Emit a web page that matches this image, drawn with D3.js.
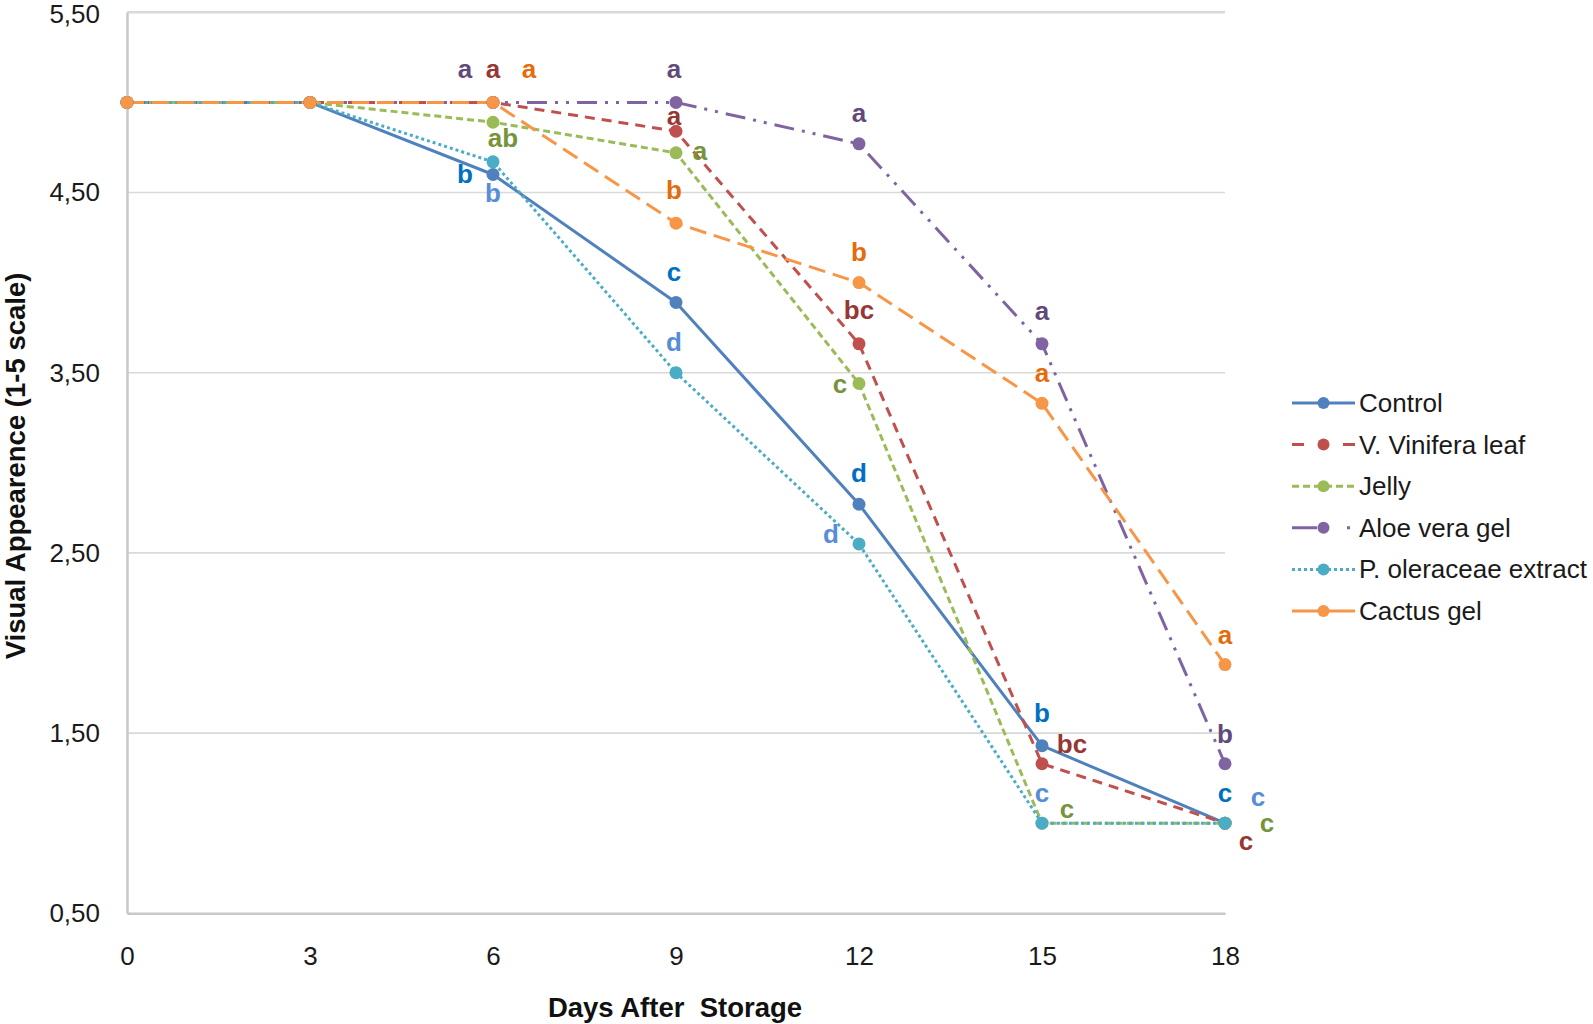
<!DOCTYPE html>
<html>
<head>
<meta charset="utf-8">
<script src="https://cdn.jsdelivr.net/npm/d3@7/dist/d3.min.js"></script>
<style>
  html, body { margin: 0; padding: 0; background: #fff; }
  svg { display: block; font-family: Arial, "Liberation Sans", sans-serif; }
</style>
</head>
<body>
<svg id="chart" width="1593" height="1024"></svg>
<script>
// ---------- DATA ----------
const days = [0, 3, 6, 9, 12, 15, 18];
const seriesNames = ["Control", "V. Vinifera leaf", "Jelly", "Aloe vera gel", "P. oleraceae extract", "Cactus gel"];
const controlValues   = [5, 5, 4.60, 3.89, 2.77, 1.43, 1.00];
const viniferaValues  = [5, 5, 5.00, 4.84, 3.66, 1.33, 1.00];
const jellyValues     = [5, 5, 4.89, 4.72, 3.44, 1.00, 1.00];
const aloeValues      = [5, 5, 5.00, 5.00, 4.77, 3.66, 1.33];
const oleraceaeValues = [5, 5, 4.67, 3.50, 2.55, 1.00, 1.00];
const cactusValues    = [5, 5, 5.00, 4.33, 4.00, 3.33, 1.88];

const controlLetters   = [null, null, "b",  "c", "d",  "b",  "c"];
const viniferaLetters  = [null, null, "a",  "a", "bc", "bc", "c"];
const jellyLetters     = [null, null, "ab", "a", "c",  "c",  "c"];
const aloeLetters      = [null, null, "a",  "a", "a",  "a",  "b"];
const oleraceaeLetters = [null, null, "b",  "d", "d",  "c",  "c"];
const cactusLetters    = [null, null, "a",  "b", "b",  "a",  "a"];

const yTicks = [0.5, 1.5, 2.5, 3.5, 4.5, 5.5];
const xTicks = days;

// ---------- STYLE / LAYOUT ----------
const lineColors  = ["#4F81BD", "#C0504D", "#9BBB59", "#8064A2", "#4BACC6", "#F79646"];
const letterColors = ["#0070C0", "#953735", "#77933C", "#604A7B", "#558ED5", "#E46C0A"];
const dashes = [null, "10,7", "7,4", "20,8,3,8,3,8", "3,3", "17,8"];
const legendDashes = [null, "12,39,12", "7,4", "25,30,3,20", "3,3", null];
// label offsets (px) relative to the point, for days 0..18
const labelOffsets = [
  [null, null, [-28, 0],  [-2, -30], [0, -31],  [0, -33],  [0, -30]],
  [null, null, [0, -33],  [-2, -15], [0, -34],  [30, -20], [21, 18]],
  [null, null, [10, 16],  [24, -2],  [-19, 0],  [25, -14], [42, 0]],
  [null, null, [-28, -33],[-2, -33], [0, -31],  [0, -33],  [0, -30]],
  [null, null, [0, 31],   [-2, -31], [-28, -10],[0, -30],  [33, -26]],
  [null, null, [36, -33], [-2, -33], [0, -31],  [0, -30],  [0, -30]]
];

const allValues = [controlValues, viniferaValues, jellyValues, aloeValues, oleraceaeValues, cactusValues];
const allLetters = [controlLetters, viniferaLetters, jellyLetters, aloeLetters, oleraceaeLetters, cactusLetters];

const series = seriesNames.map((name, i) => ({
  name, color: lineColors[i], letterColor: letterColors[i], dash: dashes[i], legendDash: legendDashes[i],
  points: days.map((d, j) => ({ day: d, value: allValues[i][j], letter: allLetters[i][j], off: labelOffsets[i][j] }))
}));

// ---------- CHART ----------
const svg = d3.select("#chart");
const pLeft = 127, pRight = 1225, pTop = 12.3, pBottom = 913.3;

const x = d3.scaleLinear().domain([0, 18]).range([pLeft, pRight]);
const y = d3.scaleLinear().domain([0.5, 5.5]).range([pBottom, pTop]);

const locale = d3.formatLocale({ decimal: ",", thousands: ".", grouping: [3], currency: ["", ""] });
const fmt = locale.format(".2f");

// gridlines
svg.append("g").selectAll("line").data(yTicks.filter(t => t !== 0.5)).join("line")
  .attr("x1", pLeft).attr("x2", pRight)
  .attr("y1", d => y(d)).attr("y2", d => y(d))
  .attr("stroke", "#D9D9D9").attr("stroke-width", d => d === 5.5 ? 2.5 : 1.6);

// y axis
const yAxis = svg.append("g").attr("transform", `translate(${pLeft},0)`)
  .call(d3.axisLeft(y).tickValues(yTicks).tickFormat(fmt).tickSize(0).tickPadding(27));
yAxis.select(".domain").attr("stroke", "#C8C8C8").attr("stroke-width", 2.5);
yAxis.selectAll("text").attr("font-size", 26).attr("fill", "#1a1a1a")
  .attr("font-family", "Arial, 'Liberation Sans', sans-serif");
yAxis.selectAll(".tick").filter(d => d === 5.5).select("text").attr("dy", "0.4em");

// x axis
const xAxis = svg.append("g").attr("transform", `translate(0,${pBottom})`)
  .call(d3.axisBottom(x).tickValues(xTicks).tickFormat(d3.format("d")).tickSize(0).tickPadding(33));
xAxis.select(".domain").attr("stroke", "#C8C8C8").attr("stroke-width", 2.5);
xAxis.selectAll("text").attr("font-size", 26).attr("fill", "#1a1a1a")
  .attr("font-family", "Arial, 'Liberation Sans', sans-serif");

// axis titles
svg.append("text")
  .attr("x", 675).attr("y", 1017)
  .attr("text-anchor", "middle")
  .attr("font-size", 27.5).attr("font-weight", "bold").attr("fill", "#111")
  .style("white-space", "pre")
  .text("Days After  Storage");

svg.append("text")
  .attr("transform", "translate(25,466) rotate(-90)")
  .attr("text-anchor", "middle")
  .attr("font-size", 27.5).attr("font-weight", "bold").attr("fill", "#111")
  .text("Visual Appearence (1-5 scale)");

// lines
const line = d3.line().x(d => x(d.day)).y(d => y(d.value));
const gLines = svg.append("g");
series.forEach(s => {
  gLines.append("path").datum(s.points)
    .attr("d", line).attr("fill", "none")
    .attr("stroke", s.color).attr("stroke-width", 3)
    .attr("stroke-dasharray", s.dash)
    .attr("stroke-linejoin", "round");
});
// markers
series.forEach(s => {
  gLines.append("g").selectAll("circle").data(s.points).join("circle")
    .attr("cx", d => x(d.day)).attr("cy", d => y(d.value)).attr("r", 6.5)
    .attr("fill", s.color);
});

// letter labels
series.forEach(s => {
  svg.append("g").selectAll("text").data(s.points.filter(p => p.letter)).join("text")
    .attr("x", d => x(d.day) + d.off[0])
    .attr("y", d => y(d.value) + d.off[1])
    .attr("text-anchor", "middle").attr("dominant-baseline", "central")
    .attr("font-size", 26).attr("font-weight", "bold")
    .attr("fill", s.letterColor)
    .text(d => d.letter);
});

// legend
const legendX1 = 1292, legendX2 = 1355, legendTextX = 1359, legendY0 = 403, legendDY = 41.6;
const lg = svg.append("g");
series.forEach((s, i) => {
  const yy = legendY0 + i * legendDY;
  lg.append("line").attr("x1", legendX1).attr("x2", legendX2).attr("y1", yy).attr("y2", yy)
    .attr("stroke", s.color).attr("stroke-width", 3).attr("stroke-dasharray", s.legendDash);
  lg.append("circle").attr("cx", (legendX1 + legendX2) / 2).attr("cy", yy).attr("r", 6).attr("fill", s.color);
  lg.append("text").attr("x", legendTextX).attr("y", yy).attr("dominant-baseline", "central")
    .attr("font-size", 26).attr("fill", "#1a1a1a").text(s.name);
});
</script>
</body>
</html>
